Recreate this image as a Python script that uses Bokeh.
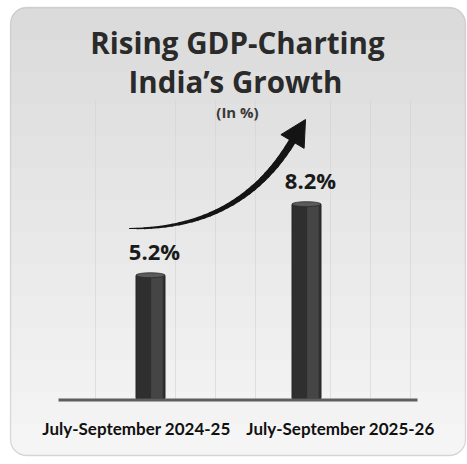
from bokeh.plotting import figure
from bokeh.models import Range1d, ColumnDataSource, BoxAnnotation
from bokeh.core.properties import value
from bokeh.embed import file_html
from bokeh.resources import INLINE
import numpy as np

# ---- data ----
categories = ["July-September 2024-25", "July-September 2025-26"]
gdp_growth = [5.2, 8.2]
value_labels = ["5.2%", "8.2%"]
title_lines = ["Rising GDP-Charting", "India\u2019s Growth"]
subtitle = "(In %)"

# ---- layout helpers (pixel -> data) ----
W, H = 467, 464
BASE_PX = 398.0
PX_PER_UNIT = 23.7
X0_PX, STEP_PX = 150.0, 156.0

def Y(py):
    return (BASE_PX - py) / PX_PER_UNIT

def X(px):
    return (px - X0_PX) / STEP_PX

p = figure(width=W, height=H, output_backend="svg", toolbar_location=None,
           x_range=Range1d(X(0), X(W)), y_range=Range1d(Y(H), Y(0)),
           min_border=0, min_border_left=0, min_border_right=0,
           min_border_top=0, min_border_bottom=0)
p.axis.visible = False
p.grid.visible = False
p.outline_line_color = None
p.background_fill_color = "white"
p.border_fill_color = "white"

# ---- card with vertical gradient ----
top_c = np.array([0xda, 0xda, 0xda])
bot_c = np.array([0xf6, 0xf6, 0xf6])
card_l, card_r, card_t, card_b = 10, 465, 7, 455
N = 14
edges = np.linspace(card_t, card_b, N + 1)
R = 16
for i in range(N):
    c = top_c + (bot_c - top_c) * (i + 0.5) / N
    col = "#%02x%02x%02x" % tuple(int(round(v)) for v in c)
    if i == 0:
        br = dict(top_left=R, top_right=R, bottom_right=0, bottom_left=0)
    elif i == N - 1:
        br = dict(top_left=0, top_right=0, bottom_right=R, bottom_left=R)
    else:
        br = 0
    p.add_layout(BoxAnnotation(left=X(card_l), right=X(card_r),
                               top=Y(edges[i]), bottom=Y(edges[i + 1] + 0.6),
                               fill_color=col, fill_alpha=1, line_color=None,
                               border_radius=br, level="underlay"))
p.add_layout(BoxAnnotation(left=X(card_l), right=X(card_r), top=Y(card_t), bottom=Y(card_b),
                           fill_alpha=0, line_color="#8a8a8a", line_width=1.3,
                           border_radius=R, level="underlay"))

# faint vertical grid lines
for gx in [95, 175, 215, 255, 330, 370, 410]:
    p.segment(x0=X(gx), y0=Y(100), x1=X(gx), y1=Y(400), line_color="#d2d2d2", line_width=1, line_alpha=0.6)

# ---- bars ----
idx = list(range(len(categories)))
src = ColumnDataSource(dict(x=idx, top=gdp_growth, lab=value_labels, cat=categories,
                            xoff=[-14, 34]))
bw = 29 / STEP_PX
p.vbar(x="x", top="top", bottom=0, width=bw, source=src, fill_color="#2f2f2f", line_color="#262626", line_width=1)
p.vbar(x=[i + bw * 0.22 for i in idx], top=gdp_growth, bottom=0, width=bw * 0.4,
       fill_color="#454545", line_color=None)
p.ellipse(x="x", y="top", width=bw, height=5 / PX_PER_UNIT, source=src,
          fill_color="#5a5a5a", line_color="#2a2a2a", line_width=0.8)

# baseline axis
p.segment(x0=X(58), y0=Y(399.5), x1=X(417), y1=Y(399.5), line_color="#5e5e5e", line_width=3)

# value labels
p.text(x="x", y="top", text="lab", source=src, x_offset=4, y_offset=-9,
       text_align="center", text_baseline="bottom",
       text_font=value("Open Sans"), text_font_style="bold", text_font_size="22px", text_color="#1a1a1a")

# category labels
p.text(x="x", y=Y(428), text="cat", source=src, x_offset="xoff",
       text_align="center", text_baseline="alphabetic",
       text_font=value("Lato"), text_font_style="bold", text_font_size="17px", text_color="#111111")

# ---- rising arrow ----
P0 = np.array([129.0, 228.0]); P1 = np.array([238.0, 229.0]); P2 = np.array([291.0, 142.0])
ts = np.linspace(0, 1, 30)
pts = [(1 - t) ** 2 * P0 + 2 * (1 - t) * t * P1 + t ** 2 * P2 for t in ts]
for k in range(len(pts) - 1):
    a, b = pts[k], pts[k + 1]
    w = 1.2 + 6.0 * (k / (len(pts) - 2)) ** 0.8
    p.line(x=[X(a[0]), X(b[0])], y=[Y(a[1]), Y(b[1])], line_color="#141414", line_width=w, line_cap="round")
tip = np.array([305.0, 119.0])
basec = np.array([292.0, 141.0])
d = tip - basec; d = d / np.linalg.norm(d)
nrm = np.array([-d[1], d[0]])
h1 = basec + nrm * 13.5; h2 = basec - nrm * 13.5
p.patch(x=[X(tip[0]), X(h1[0]), X(h2[0])], y=[Y(tip[1]), Y(h1[1]), Y(h2[1])],
        fill_color="#141414", line_color="#141414")

# ---- titles ----
p.text(x=[X(237)], y=[Y(42)], text=[title_lines[0]], text_align="center", text_baseline="alphabetic",
       text_font=value("Open Sans"), text_font_style="bold", text_font_size="29.5px", text_color="#2a2a2a")
p.text(x=[X(235)], y=[Y(81)], text=[title_lines[1]], text_align="center", text_baseline="alphabetic",
       text_font=value("Open Sans"), text_font_style="bold", text_font_size="29.5px", text_color="#2a2a2a")
p.text(x=[X(237)], y=[Y(111)], text=[subtitle], text_align="center", text_baseline="alphabetic",
       text_font=value("Open Sans"), text_font_style="bold", text_font_size="15px", text_color="#3a3a3a")

open("out.html", "w").write(file_html(p, INLINE))
